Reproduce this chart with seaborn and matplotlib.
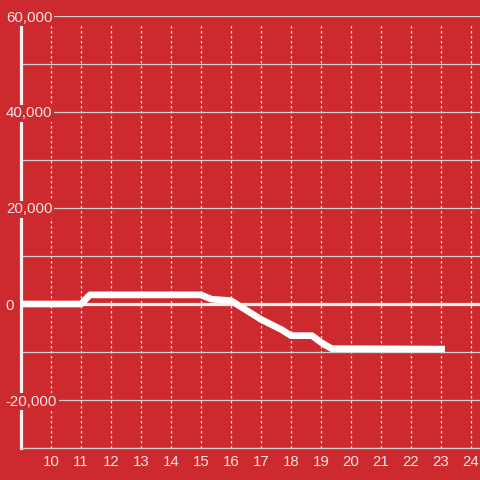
import matplotlib
matplotlib.use("Agg")
import matplotlib.pyplot as plt
import seaborn as sns
import pandas as pd
import numpy as np

hours = [9.0, 11.0, 11.3, 15.0, 15.35, 16.0, 17.0, 17.7, 18.0, 18.7, 19.0, 19.35, 23.13]
values = [0, 0, 1900, 1900, 1000, 700, -3200, -5400, -6600, -6600, -8000, -9300, -9400]
x_ticks = list(range(10, 25))
y_ticks = [-20000, 0, 20000, 40000, 60000]
y_minor = [-30000, -10000, 10000, 30000, 50000]

bg = "#cc2a2f"
txt = "#f6e4e4"

sns.set_theme(style="white")
plt.rcParams["font.family"] = ["Liberation Sans", "DejaVu Sans"]

fig = plt.figure(figsize=(4.8, 4.8), dpi=100)
fig.patch.set_facecolor(bg)
ax = fig.add_axes([21 / 480, 32 / 480, 459 / 480, 432 / 480])
ax.set_facecolor(bg)

df = pd.DataFrame({"hour": hours, "value": values})

ax.set_xlim(9.0, 24.3)
ax.set_ylim(-30000, 60000)

# horizontal grid
for v in y_ticks + y_minor:
    if v == 0:
        continue
    ax.axhline(v, color="#d0d0d0", lw=0.9, zorder=1)
# vertical dotted grid
top_frac = (448 - 24) / 432
for xv in x_ticks:
    ax.axvline(xv, ymin=0, ymax=top_frac, color="#e8e0e0", lw=0.9,
               ls=(0, (2, 2)), zorder=1)

ax.axhline(0, color="#f2eeee", lw=2.3, zorder=2)

sns.lineplot(data=df, x="hour", y="value", ax=ax, color="white", lw=4.8,
             zorder=3, solid_joinstyle="round", solid_capstyle="butt")

ax.set_xlabel("")
ax.set_ylabel("")
ax.set_xticks(x_ticks)
ax.set_xticklabels([str(t) for t in x_ticks], color=txt, fontsize=10.8)
ax.set_yticks([])
ax.tick_params(axis="x", length=0, pad=5.0)

for s in ["top", "right"]:
    ax.spines[s].set_visible(False)
ax.spines["bottom"].set_color("#d0d0d0")
ax.spines["bottom"].set_linewidth(0.9)
ax.spines["left"].set_color("#f4f0f0")
ax.spines["left"].set_linewidth(2.3)
ax.spines["left"].set_bounds(-30000, 58300)
ax.spines["left"].set_zorder(2.5)

for v in y_ticks:
    ax.text(-0.033, v, f"{v:,}", transform=ax.get_yaxis_transform(),
            ha="left", va="center_baseline", color=txt, fontsize=10.8,
            clip_on=False, zorder=10,
            bbox=dict(facecolor=bg, edgecolor="none", pad=1.2))

fig.savefig("out.png", dpi=100, facecolor=bg)
